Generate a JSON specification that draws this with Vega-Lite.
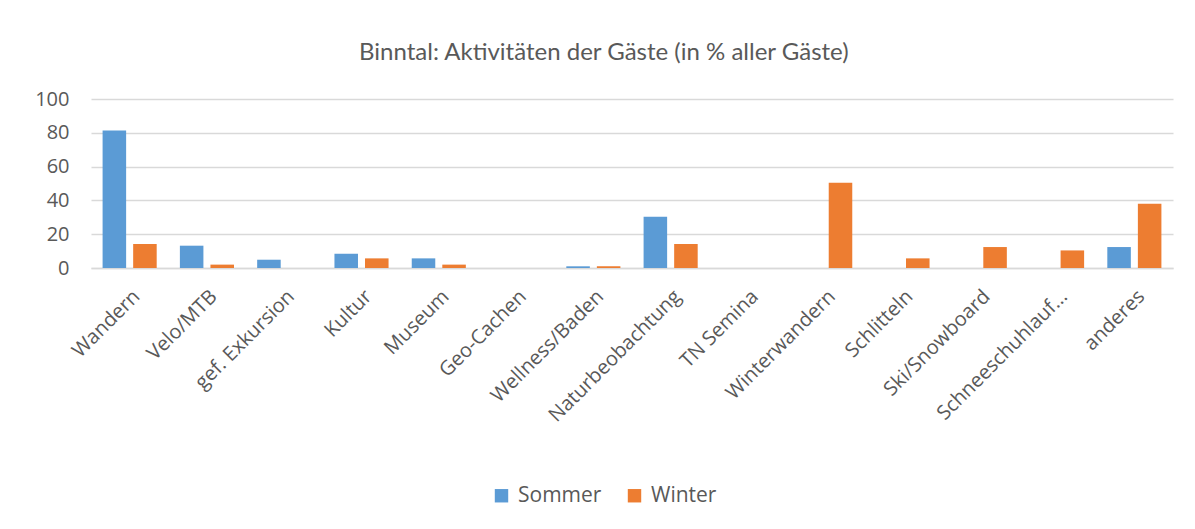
{
  "$schema": "https://vega.github.io/schema/vega-lite/v6.json",
  "autosize": "none",
  "width": 1082,
  "height": 169,
  "padding": {"left": 91, "top": 99, "right": 22, "bottom": 261},
  "background": "white",
  "title": {
    "text": "Binntal: Aktivitäten der Gäste (in % aller Gäste)",
    "anchor": "middle",
    "frame": "bounds",
    "font": "Lato",
    "fontSize": 24,
    "fontWeight": "normal",
    "color": "#595959",
    "offset": 24
  },
  "data": {
    "values": [
      {"Aktivitaet": "Wandern", "Saison": "Sommer", "Wert": 81.3},
      {"Aktivitaet": "Wandern", "Saison": "Winter", "Wert": 14.2},
      {"Aktivitaet": "Velo/MTB", "Saison": "Sommer", "Wert": 13.2},
      {"Aktivitaet": "Velo/MTB", "Saison": "Winter", "Wert": 2},
      {"Aktivitaet": "gef. Exkursion", "Saison": "Sommer", "Wert": 4.9},
      {"Aktivitaet": "Kultur", "Saison": "Sommer", "Wert": 8.5},
      {"Aktivitaet": "Kultur", "Saison": "Winter", "Wert": 5.7},
      {"Aktivitaet": "Museum", "Saison": "Sommer", "Wert": 5.7},
      {"Aktivitaet": "Museum", "Saison": "Winter", "Wert": 2},
      {"Aktivitaet": "Wellness/Baden", "Saison": "Sommer", "Wert": 1},
      {"Aktivitaet": "Wellness/Baden", "Saison": "Winter", "Wert": 1},
      {"Aktivitaet": "Naturbeobachtung", "Saison": "Sommer", "Wert": 30.3},
      {"Aktivitaet": "Naturbeobachtung", "Saison": "Winter", "Wert": 14.2},
      {"Aktivitaet": "Winterwandern", "Saison": "Winter", "Wert": 50.4},
      {"Aktivitaet": "Schlitteln", "Saison": "Winter", "Wert": 5.7},
      {"Aktivitaet": "Ski/Snowboard", "Saison": "Winter", "Wert": 12.4},
      {"Aktivitaet": "Schneeschuhlauf...", "Saison": "Winter", "Wert": 10.4},
      {"Aktivitaet": "anderes", "Saison": "Sommer", "Wert": 12.4},
      {"Aktivitaet": "anderes", "Saison": "Winter", "Wert": 38}
    ]
  },
  "mark": {"type": "bar"},
  "encoding": {
    "x": {
      "field": "Aktivitaet",
      "type": "nominal",
      "scale": {
        "domain": ["Wandern", "Velo/MTB", "gef. Exkursion", "Kultur", "Museum", "Geo-Cachen", "Wellness/Baden", "Naturbeobachtung", "TN Semina", "Winterwandern", "Schlitteln", "Ski/Snowboard", "Schneeschuhlauf...", "anderes"],
        "paddingInner": 0.3,
        "paddingOuter": 0.15
      },
      "axis": {
        "title": null,
        "labelAngle": -45,
        "labelFont": "Open Sans",
        "labelFontSize": 20,
        "labelColor": "#595959",
        "labelPadding": 18,
        "ticks": false,
        "domainColor": "#D9D9D9",
        "domainWidth": 1.5
      }
    },
    "xOffset": {
      "field": "Saison",
      "type": "nominal",
      "scale": {"domain": ["Sommer", "Winter"], "paddingInner": 0.23}
    },
    "y": {
      "field": "Wert",
      "type": "quantitative",
      "scale": {"domain": [0, 100]},
      "axis": {
        "title": null,
        "values": [0, 20, 40, 60, 80, 100],
        "labelFont": "Open Sans",
        "labelFontSize": 20,
        "labelColor": "#595959",
        "labelPadding": 22,
        "ticks": false,
        "domain": false,
        "gridColor": "#D9D9D9",
        "gridWidth": 1.5
      }
    },
    "color": {
      "field": "Saison",
      "type": "nominal",
      "scale": {"domain": ["Sommer", "Winter"], "range": ["#5B9BD5", "#ED7D31"]},
      "legend": {
        "title": null,
        "orient": "none",
        "direction": "horizontal",
        "legendX": 400,
        "legendY": 386,
        "symbolType": "square",
        "symbolSize": 180,
        "symbolStrokeWidth": 0,
        "labelFont": "Open Sans",
        "labelFontSize": 21,
        "labelColor": "#595959",
        "labelOffset": 6,
        "columnPadding": 22
      }
    }
  },
  "config": {
    "view": {"stroke": null}
  }
}
